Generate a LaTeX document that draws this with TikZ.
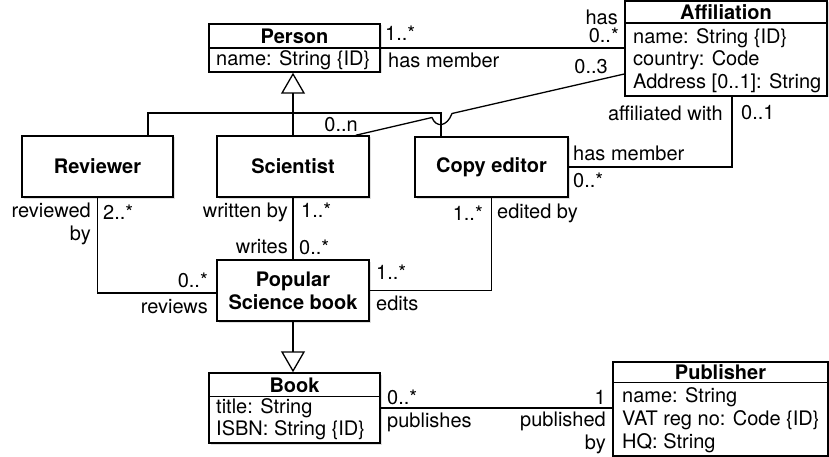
\documentclass[tikz,border=0pt]{standalone}
\usepackage{fontspec}
\setmainfont{TeX Gyre Heros}
\usetikzlibrary{arrows.meta,shadows}
\begin{document}
\fontsize{20}{23}\selectfont
\begin{tikzpicture}
		[x=1pt,y=-1pt,
		cls/.style={rectangle,draw=black,line width=1.5pt,fill=white,inner sep=0pt,
			drop shadow={shadow xshift=1.5pt,shadow yshift=-1.5pt,opacity=.25}},
		title/.style={font=\bfseries,inner sep=0pt},
		attr/.style={anchor=west,inner sep=0pt},
		lbl/.style={inner sep=0pt},
		link/.style={line width=1.3pt},
		gen/.style={link,-{Triangle[open,length=21pt,width=24pt]}}
		]
		\useasboundingbox (0,0) rectangle (829,457);

		\node[cls,minimum width=171,minimum height=48] (person) at (294.5,48) {};
		\draw[line width=1.5pt] (person.west) -- (person.east);
		\node[title] (person-t) at (294.5,36) {Person};
		\node[attr] (person-a) at (216,60) {name: String \{ID\}};

		\node[cls,minimum width=202,minimum height=95] (aff) at (726,48.5) {};
		\draw[line width=1.5pt] ([yshift=-23]aff.north west) -- ([yshift=-23]aff.north east);
		\node[title] (aff-t) at (726,12) {Affiliation};
		\node[attr] (aff-a1) at (633,38) {name: String \{ID\}};
		\node[attr] (aff-a2) at (633,60) {country: Code};
		\node[attr] (aff-a3) at (633,83) {Address [0..1]: String};

		\node[cls,title,minimum width=151,minimum height=61] (rev) at (97.5,166.5) {Reviewer};
		\node[cls,title,minimum width=152,minimum height=61] (sci) at (293,166.5) {Scientist};
		\node[cls,title,minimum width=153,minimum height=60] (ce) at (491.5,167) {Copy editor};
		\node[cls,title,minimum width=152,minimum height=61,align=center] (psb) at (293,290.5) {Popular\\Science book};

		\node[cls,minimum width=171,minimum height=70] (book) at (294.5,408) {};
		\draw[line width=1.5pt] ([yshift=-24]book.north west) -- ([yshift=-24]book.north east);
		\node[title] (book-t) at (294.5,385) {Book};
		\node[attr] (book-a1) at (216,408) {title: String};
		\node[attr] (book-a2) at (216,430) {ISBN: String \{ID\}};

		\node[cls,minimum width=215,minimum height=94] (pub) at (720.5,409) {};
		\draw[line width=1.5pt] ([yshift=-21]pub.north west) -- ([yshift=-21]pub.north east);
		\node[title] (pub-t) at (720.5,372) {Publisher};
		\node[attr] (pub-a1) at (622,397) {name: String};
		\node[attr] (pub-a2) at (622,420) {VAT reg no: Code \{ID\}};
		\node[attr] (pub-a3) at (622,443) {HQ: String};

		\coordinate (gj) at (293,113);
		\draw[gen] (sci.north) -- (sci.north |- person.south);
		\draw[link] ([xshift=50.5]rev.north) |- (gj) -| ([xshift=-50.5]ce.north);
		\draw[gen] (psb.south) -- (psb.south |- book.north);

		\draw[link] (person.east) -- (person.east -| aff.west);
		\draw[link] (aff.west |- 0,74) -- (452,113.5) .. controls (447,127) and (436,128) .. (432,117.5) -- ([xshift=-14]sci.north east);
		\draw[link] (rev.south) |- ([yshift=-2.5]psb.west);
		\draw[link] (sci.south) -- (psb.north);
		\draw[link] (ce.south) |- (psb.east);
		\draw[link] (ce.east) -| ([xshift=6]aff.south);
		\draw[link] (book.east) -- (book.east -| pub.west);

		\node[lbl,anchor=west] (l1) at (385,33) {1..*};
		\node[lbl,anchor=west] (l2) at (388,60) {has member};
		\node[lbl,anchor=east] (l3) at (618,17) {has};
		\node[lbl,anchor=east] (l4) at (619,35) {0..*};
		\node[lbl,anchor=east] (l5) at (608,67) {0..3};
		\node[lbl,anchor=east] (l6) at (358,125) {0..n};
		\node[lbl,anchor=east] (l7) at (723,113) {affiliated with};
		\node[lbl,anchor=west] (l8) at (741,113) {0..1};
		\node[lbl,anchor=west] (l9) at (573,153) {has member};
		\node[lbl,anchor=west] (l10) at (573,180) {0..*};
		\node[lbl,anchor=east,align=right] (l11) at (91,223.5) {reviewed\\by};
		\node[lbl,anchor=west] (l12) at (103,212) {2..*};
		\node[lbl,anchor=east] (l13) at (288,212) {written by};
		\node[lbl,anchor=west] (l14) at (301,210) {1..*};
		\node[lbl,anchor=east] (l15) at (288,247) {writes};
		\node[lbl,anchor=west] (l16) at (299,247) {0..*};
		\node[lbl,anchor=east] (l17) at (483,213) {1..*};
		\node[lbl,anchor=west] (l18) at (497,213) {edited by};
		\node[lbl,anchor=east] (l19) at (208,280) {0..*};
		\node[lbl,anchor=east] (l20) at (208,307) {reviews};
		\node[lbl,anchor=west] (l21) at (376,272) {1..*};
		\node[lbl,anchor=west] (l22) at (376,303) {edits};
		\node[lbl,anchor=west] (l23) at (387,397) {0..*};
		\node[lbl,anchor=west] (l24) at (387,422) {publishes};
		\node[lbl,anchor=east] (l25) at (606,397) {1};
		\node[lbl,anchor=east,align=right] (l26) at (606,432.5) {published\\by};
	\end{tikzpicture}
\end{document}
